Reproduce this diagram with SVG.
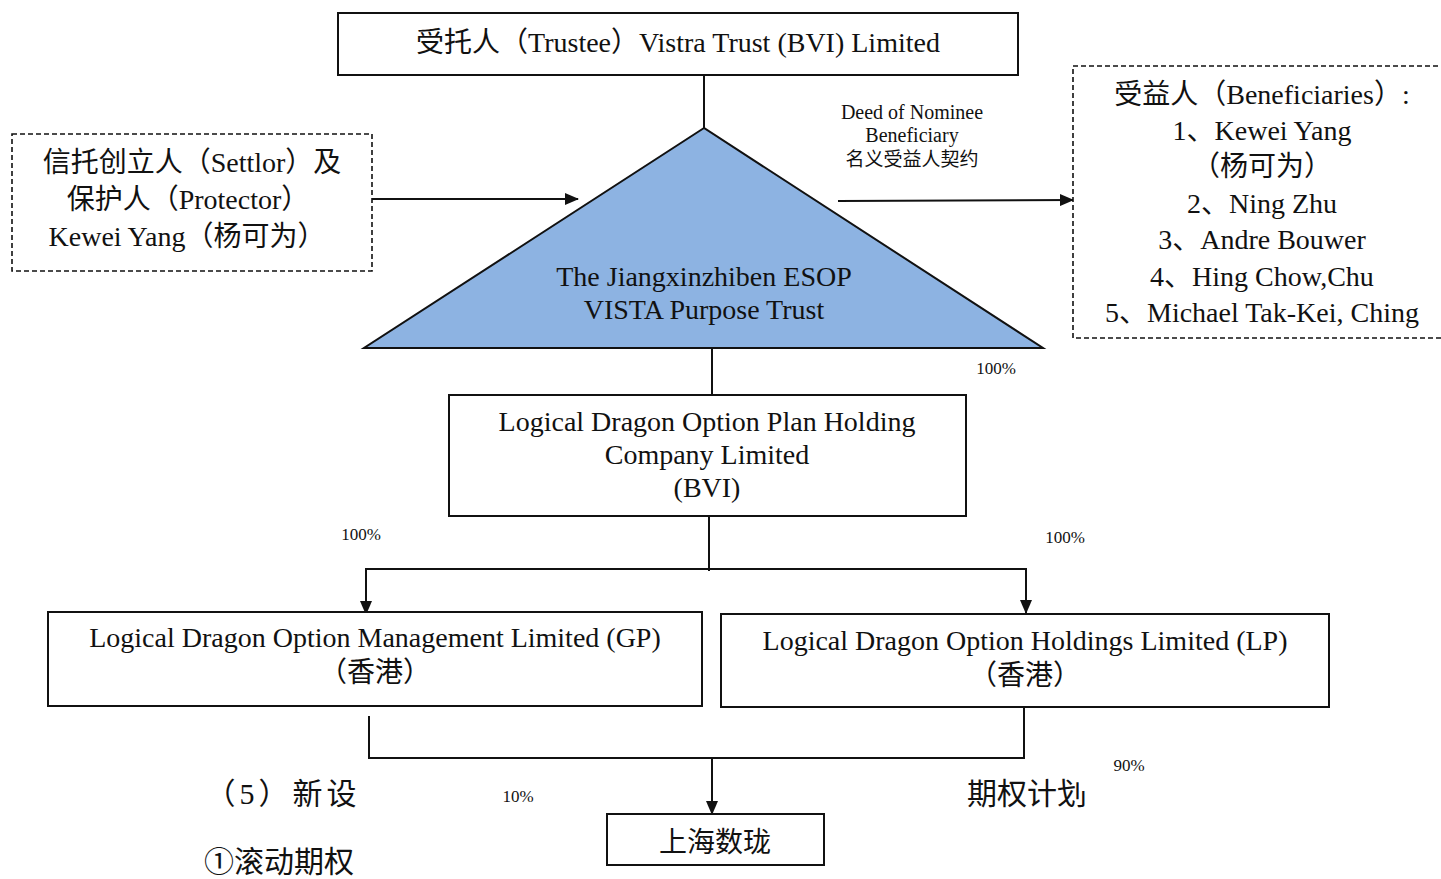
<svg xmlns="http://www.w3.org/2000/svg" width="1441" height="879" viewBox="0 0 1441 879">
<style>
  .t{font-family:"Liberation Serif","Noto Sans CJK SC",serif;fill:#111;text-anchor:middle}
  .b{fill:#fff;stroke:#111;stroke-width:2}
  .d{fill:#fff;stroke:#111;stroke-width:1.6;stroke-dasharray:5 3}
  .l{fill:none;stroke:#111;stroke-width:2}
  .s{font-size:28px}
  .p{font-size:17px}
  .n{font-size:30px}
</style>
<defs>
  <marker id="ah" markerWidth="14" markerHeight="12" refX="13" refY="6" orient="auto" markerUnits="userSpaceOnUse">
    <path d="M0,0 L14,6 L0,12 Z" fill="#111"/>
  </marker>
  <clipPath id="cl"><rect x="900" y="760" width="179" height="60"/><rect x="1079" y="791" width="20" height="25"/></clipPath>
</defs>
<rect width="1441" height="879" fill="#fff"/>
<g id="connectors">
  <line class="l" x1="704" y1="75" x2="704" y2="128"/>
  <line class="l" x1="372" y1="199" x2="578" y2="199" marker-end="url(#ah)"/>
  <line class="l" x1="838" y1="201" x2="1073" y2="200" marker-end="url(#ah)"/>
  <line class="l" x1="712" y1="348" x2="712" y2="395"/>
  <line class="l" x1="709" y1="516" x2="709" y2="571"/>
  <polyline class="l" points="366,614 366,569 1026,569 1026,613" marker-end="url(#ah)"/>
  <line class="l" x1="366" y1="569" x2="366" y2="614" marker-end="url(#ah)"/>
  <polyline class="l" points="369,716 369,758 1024,758 1024,707"/>
  <line class="l" x1="712" y1="758" x2="712" y2="814" marker-end="url(#ah)"/>
</g>
<g id="trustee">
  <rect class="b" x="338" y="13" width="680" height="62"/>
  <text class="t s" x="678" y="52">受托人（Trustee）Vistra Trust (BVI) Limited</text>
</g>
<g id="trust">
  <polygon points="704,128 364,348 1043,348" fill="#8DB3E2" stroke="#111" stroke-width="2"/>
  <text class="t s" x="704" y="286">The Jiangxinzhiben ESOP</text>
  <text class="t s" x="704" y="319">VISTA Purpose Trust</text>
</g>
<g id="settlor">
  <rect class="d" x="12" y="134" width="360" height="137"/>
  <text class="t s" x="192" y="172">信托创立人（Settlor）及</text>
  <text class="t s" x="188" y="209">保护人（Protector）</text>
  <text class="t s" x="187" y="246">Kewei Yang（杨可为）</text>
</g>
<g id="deed">
  <text class="t" font-size="20" x="912" y="119">Deed of Nominee</text>
  <text class="t" font-size="20" x="912" y="142">Beneficiary</text>
  <text class="t" font-size="19" x="912" y="166">名义受益人契约</text>
</g>
<g id="beneficiaries">
  <rect class="d" x="1073" y="66" width="380" height="272"/>
  <text class="t s" x="1262" y="104">受益人（Beneficiaries）:</text>
  <text class="t s" x="1262" y="140">1、Kewei Yang</text>
  <text class="t s" x="1262" y="176">（杨可为）</text>
  <text class="t s" x="1262" y="213">2、Ning Zhu</text>
  <text class="t s" x="1262" y="249">3、Andre Bouwer</text>
  <text class="t s" x="1262" y="286">4、Hing Chow,Chu</text>
  <text class="t s" x="1262" y="322">5、Michael Tak-Kei, Ching</text>
</g>
<g id="pct">
  <text class="t p" x="996" y="374">100%</text>
  <text class="t p" x="361" y="540">100%</text>
  <text class="t p" x="1065" y="543">100%</text>
  <text class="t p" x="518" y="802">10%</text>
  <text class="t p" x="1129" y="771">90%</text>
</g>
<g id="holding">
  <rect class="b" x="449" y="395" width="517" height="121"/>
  <text class="t s" x="707" y="431">Logical Dragon Option Plan Holding</text>
  <text class="t s" x="707" y="464">Company Limited</text>
  <text class="t s" x="707" y="497">(BVI)</text>
</g>
<g id="gp">
  <rect class="b" x="48" y="612" width="654" height="94"/>
  <text class="t s" x="375" y="647">Logical Dragon Option Management Limited (GP)</text>
  <text class="t s" x="375" y="682">（香港）</text>
</g>
<g id="lp">
  <rect class="b" x="721" y="614" width="608" height="93"/>
  <text class="t s" x="1025" y="650">Logical Dragon Option Holdings Limited (LP)</text>
  <text class="t s" x="1025" y="685">（香港）</text>
</g>
<g id="shanghai">
  <rect class="b" x="607" y="814" width="217" height="51"/>
  <text class="t s" x="715" y="852">上海数珑</text>
</g>
<g id="notes">
  <text class="t n" x="283" y="804" letter-spacing="4">（5）新设</text>
  <text class="t n" x="279" y="872">①滚动期权</text>
  <text class="t n" x="1027" y="804" clip-path="url(#cl)">期权计划</text>
</g>
</svg>
